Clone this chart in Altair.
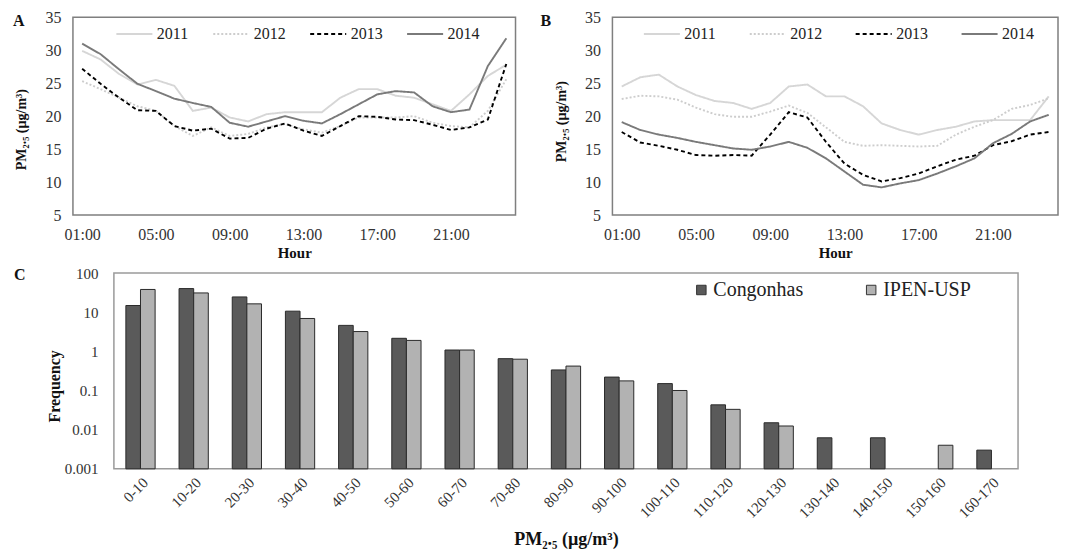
import altair as alt
import pandas as pd

hours = list(range(1, 25))
years = ["2011", "2012", "2013", "2014"]

a_2011 = [29.9, 28.6, 26.4, 24.8, 25.5, 24.6, 20.8, 21.3, 19.8, 19.2, 20.3, 20.6,
          20.6, 20.6, 22.8, 24.1, 24.1, 23.1, 22.8, 21.8, 20.8, 23.3, 26.1, 27.8]
a_2012 = [25.3, 24.1, 22.8, 21.5, 20.8, 18.5, 17.0, 18.3, 17.0, 17.3, 18.3, 18.8,
          18.0, 17.5, 18.5, 19.8, 19.8, 19.8, 20.0, 19.0, 18.5, 18.3, 20.8, 25.6]
a_2013 = [27.2, 24.9, 22.8, 20.9, 20.8, 18.5, 17.8, 18.1, 16.6, 16.7, 18.1, 18.9,
          17.8, 17.0, 18.5, 20.0, 19.9, 19.5, 19.4, 18.7, 17.9, 18.3, 19.5, 27.9]
a_2014 = [31.0, 29.4, 27.1, 24.9, 23.8, 22.65, 22.0, 21.4, 19.0, 18.4, 19.2, 20.0,
          19.3, 18.9, 20.3, 21.8, 23.3, 23.8, 23.6, 21.5, 20.6, 21.0, 27.6, 31.8]

b_2011 = [24.5, 25.9, 26.3, 24.5, 23.2, 22.3, 22.0, 21.1, 22.0, 24.5, 24.8, 23.0,
          23.0, 21.5, 18.9, 17.9, 17.2, 17.9, 18.4, 19.2, 19.4, 19.4, 19.4, 23.0]
b_2012 = [22.6, 23.1, 23.0, 22.5, 21.3, 20.3, 19.9, 19.9, 20.7, 21.6, 20.5, 18.3,
          16.1, 15.5, 15.6, 15.5, 15.4, 15.5, 17.2, 18.4, 19.4, 21.1, 21.7, 22.7]
b_2013 = [17.6, 16.0, 15.5, 14.9, 14.1, 14.0, 14.1, 14.0, 17.2, 20.6, 19.8, 16.1,
          12.8, 11.1, 10.1, 10.6, 11.3, 12.4, 13.4, 14.0, 15.6, 16.2, 17.2, 17.6]
b_2014 = [19.1, 17.9, 17.2, 16.7, 16.1, 15.6, 15.1, 14.9, 15.4, 16.1, 15.2, 13.6,
          11.6, 9.6, 9.2, 9.8, 10.3, 11.3, 12.4, 13.6, 15.9, 17.3, 19.2, 20.2]

bins = ["0-10", "10-20", "20-30", "30-40", "40-50", "50-60", "60-70", "70-80",
        "80-90", "90-100", "100-110", "110-120", "120-130", "130-140", "140-150",
        "150-160", "160-170"]
stations = ["Congonhas", "IPEN-USP"]
congonhas = [14.8, 40, 24.5, 10.6, 4.6, 2.15, 1.08, 0.65, 0.335, 0.22, 0.15, 0.043,
             0.015, 0.0062, 0.0062, None, 0.003]
ipen = [38, 31, 16.3, 6.9, 3.2, 1.9, 1.08, 0.63, 0.42, 0.176, 0.10, 0.033,
        0.0124, None, None, 0.004, None]

panel_letters = ["A", "B", "C"]


def long_lines(series):
    rows = []
    for yr, vals in zip(years, series):
        for h, v in zip(hours, vals):
            rows.append({"hour": h, "year": yr, "pm": v})
    return pd.DataFrame(rows)


df_a = long_lines([a_2011, a_2012, a_2013, a_2014])
df_b = long_lines([b_2011, b_2012, b_2013, b_2014])

rows = []
for st, vals in zip(stations, [congonhas, ipen]):
    for b, v in zip(bins, vals):
        if v is not None:
            rows.append({"bin": b, "station": st, "freq": v})
df_c = pd.DataFrame(rows)

FONT = "Liberation Serif"
line_colors = ["#d6d6d6", "#cdcdcd", "#000000", "#7a7a7a"]
line_dash = [[1, 0], [2, 2], [4, 3], [1, 0]]


def letter_layer(letter, dx, dy):
    return alt.Chart(pd.DataFrame({"panel": [letter]})).mark_text(
        align="left", baseline="top", fontSize=16, fontWeight="bold",
        font=FONT, color="#111"
    ).encode(x=alt.value(dx), y=alt.value(dy), text="panel:N")


def line_panel(df, letter, width, leg_x, col_pad, letter_dx, title_y):
    leg = alt.Legend(orient="none", legendX=leg_x, legendY=-3, direction="horizontal",
                     symbolType="stroke", symbolSize=1300, symbolStrokeWidth=2,
                     labelFontSize=16, labelFont=FONT, labelColor="#222",
                     columnPadding=col_pad, labelOffset=3, title=None, padding=0)
    lines = alt.Chart(df).mark_line(strokeWidth=1.9).encode(
        x=alt.X("hour:Q", scale=alt.Scale(domain=[0.5, 24.5], nice=False),
                axis=alt.Axis(values=[1, 5, 9, 13, 17, 21],
                              labelExpr="(datum.value < 10 ? '0' : '') + datum.value + ':00'",
                              title="Hour", titleFontWeight="bold", titleFontSize=15,
                              titlePadding=3, labelPadding=11, labelFontSize=16,
                              ticks=False, domain=False, grid=False)),
        y=alt.Y("pm:Q", scale=alt.Scale(domain=[5, 35], nice=False),
                axis=alt.Axis(values=[5, 10, 15, 20, 25, 30, 35],
                              title="PM₂.₅ (µg/m³)", titleFontWeight="bold",
                              titleFontSize=14, titlePadding=14, labelPadding=12,
                              labelFontSize=16, ticks=False, domain=False,
                              grid=False, minExtent=30, maxExtent=30,
                              titleY=title_y)),
        color=alt.Color("year:N", scale=alt.Scale(domain=years, range=line_colors),
                        legend=leg),
        strokeDash=alt.StrokeDash("year:N", scale=alt.Scale(domain=years, range=line_dash),
                                  legend=leg),
        detail="year:N",
    )
    return alt.layer(lines, letter_layer(letter, letter_dx, -4)).properties(
        width=width, height=198,
        view=alt.ViewBackground(stroke="#7f7f7f", strokeWidth=1.5),
    )


panel_a = line_panel(df_a, panel_letters[0], 443, 42, 20, -60, 112)
panel_b = line_panel(df_b, panel_letters[1], 446, 30, 29, -72, 104)

leg_c = alt.Legend(orient="none", legendX=619, legendY=7, direction="horizontal",
                   symbolType="square", symbolSize=90, symbolStrokeColor="#333",
                   symbolStrokeWidth=1, labelFontSize=20, labelFont=FONT,
                   labelColor="#222", columnPadding=58, labelOffset=2, title=None,
                   padding=0)

bars = alt.Chart(df_c).mark_bar(stroke="#2a2a2a", strokeWidth=1).encode(
    x=alt.X("bin:N", sort=bins,
            scale=alt.Scale(paddingInner=0.45, paddingOuter=0.225),
            axis=alt.Axis(title="PM₂.₅ (µg/m³)", titleFontWeight="bold",
                          titleFontSize=18, titlePadding=10, labelAngle=-45,
                          labelFontSize=15, labelPadding=6, ticks=False,
                          domain=False, grid=False)),
    xOffset=alt.XOffset("station:N", scale=alt.Scale(domain=stations)),
    y=alt.Y("freq:Q", scale=alt.Scale(type="log", domain=[0.001, 100], nice=False),
            axis=alt.Axis(values=[0.001, 0.01, 0.1, 1, 10, 100], format="~g",
                          title="Frequency", titleFontWeight="bold",
                          titleFontSize=16, titlePadding=11, labelPadding=16,
                          labelFontSize=15, ticks=False, domain=False, grid=False,
                          minExtent=40, maxExtent=40, titleY=113)),
    y2=alt.datum(0.001),
    color=alt.Color("station:N", scale=alt.Scale(domain=stations,
                                                  range=["#5a5a5a", "#b2b2b2"]),
                    legend=leg_c),
)

panel_c = alt.layer(bars, letter_layer(panel_letters[2], -100, -6)).properties(
    width=905, height=196,
    view=alt.ViewBackground(stroke="#9a9a9a", strokeWidth=1.5),
)

# empty spacer that shifts panel C to the right of panel A's origin
spacer = alt.Chart(pd.DataFrame({"s": [0]})).mark_point(opacity=0).encode(
    x=alt.X("s:Q", axis=None), y=alt.Y("s:Q", axis=None)
).properties(width=1, height=1,
             view=alt.ViewBackground(stroke="transparent"))

top = alt.hconcat(panel_a, panel_b, spacing=23).resolve_scale(
    color="independent", strokeDash="independent").resolve_legend(
    color="independent", strokeDash="independent")
bottom = alt.hconcat(spacer, panel_c, spacing=40, bounds="flush")

chart = alt.vconcat(top, bottom, spacing=4).resolve_scale(
    color="independent", strokeDash="independent"
).resolve_legend(
    color="independent", strokeDash="independent"
).properties(
    padding={"left": 4, "top": 0, "right": 0, "bottom": 0}
).configure(font=FONT).configure_axis(
    labelFont=FONT, titleFont=FONT, labelColor="#333", titleColor="#111"
).configure_view(stroke="#7f7f7f")

chart.save("out.html", embed_options={"renderer": "svg", "actions": False})
